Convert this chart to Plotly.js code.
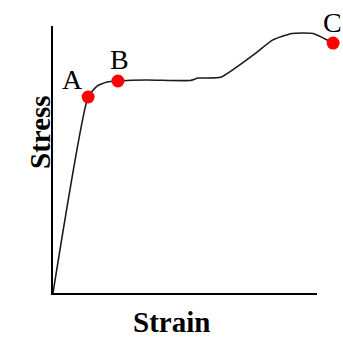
<!DOCTYPE html>
<html>
<head>
<meta charset="utf-8">
<script src="https://cdn.plot.ly/plotly-3.0.1.min.js"></script>
<style>
  html, body { margin: 0; padding: 0; background: #fff; }
  #chart { width: 343px; height: 337px; }
</style>
</head>
<body>
<div id="chart"></div>
<script>
// stress-strain curve, values (strain axis 0..100, stress axis 0..100)
const strain = [0, 13.3, 16.7, 20.5, 24.6, 35.6, 52.0, 55.0, 63.5, 75.8, 83.3, 90.5, 98.5, 106.1];
const stress = [0, 73.4, 77.5, 79.0, 79.4, 79.8, 79.6, 80.5, 80.8, 89.1, 94.8, 97.2, 97.2, 93.6];

// the three marked points
const pointLabels = ['A', 'B', 'C'];
const pointStrain = [13.3, 24.6, 106.1];
const pointStress = [73.4, 79.4, 93.6];

const labelShiftX = [-16, 2, -1];
const labelShiftY = [18, 22, 21];

const serif = '"Times New Roman", "Liberation Serif", serif';

const data = [
    {
        // keeps the subplot that carries the axis lines
        x: [], y: [],
        type: 'scatter',
        xaxis: 'x', yaxis: 'y',
        hoverinfo: 'skip',
        showlegend: false
    },
    {
        x: strain,
        y: stress,
        type: 'scatter',
        mode: 'lines',
        xaxis: 'x2', yaxis: 'y',
        line: { color: '#1a1a1a', width: 1.6, shape: 'spline', smoothing: 0.5 },
        cliponaxis: false,
        showlegend: false
    },
    {
        x: pointStrain,
        y: pointStress,
        type: 'scatter',
        mode: 'markers',
        xaxis: 'x2', yaxis: 'y',
        marker: { color: '#ff0000', size: 13 },
        cliponaxis: false,
        showlegend: false
    }
];

const annotations = pointLabels.map((lab, i) => ({
    x: pointStrain[i],
    y: pointStress[i],
    xref: 'x2', yref: 'y',
    text: lab,
    showarrow: false,
    xshift: labelShiftX[i],
    yshift: labelShiftY[i],
    font: { family: serif, size: 28, color: '#000' }
}));

annotations.push({
    x: 0.41, y: -0.109, xref: 'paper', yref: 'paper',
    text: '<b>Strain</b>', showarrow: false,
    yanchor: 'middle',
    font: { family: serif, size: 29, color: '#000' }
});
annotations.push({
    x: -0.107, y: 0.603, xref: 'paper', yref: 'paper',
    text: '<b>Stress</b>', showarrow: false, textangle: -90,
    font: { family: serif, size: 29, color: '#000' }
});

const hidden = { showgrid: false, zeroline: false, showticklabels: false, ticks: '' };

const layout = {
    width: 343,
    height: 337,
    margin: { l: 53, r: 0, t: 26, b: 44 },
    paper_bgcolor: '#fff',
    plot_bgcolor: 'rgba(0,0,0,0)',
    font: { family: serif },
    xaxis: Object.assign({}, hidden, {
        domain: [0, 264 / 290], range: [0, 100], anchor: 'y',
        showline: true, linecolor: '#000', linewidth: 2
    }),
    xaxis2: Object.assign({}, hidden, {
        domain: [0, 1], range: [0, 109.85], anchor: 'y',
        showline: false
    }),
    yaxis: Object.assign({}, hidden, {
        range: [0, 100], anchor: 'x',
        showline: true, linecolor: '#000', linewidth: 2
    }),
    annotations: annotations
};

Plotly.newPlot('chart', data, layout, { displayModeBar: false, staticPlot: true });
</script>
</body>
</html>
